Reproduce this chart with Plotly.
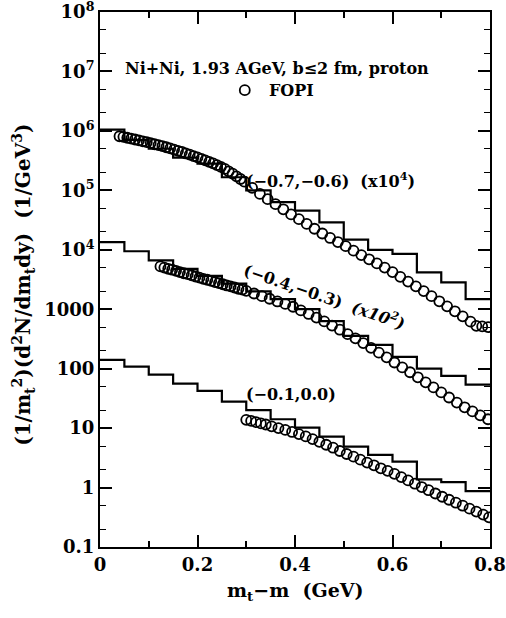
import plotly.graph_objects as go

# ---------------- data (plotted values, already scaled) ----------------
bin_edges = [0.00, 0.05, 0.10, 0.15, 0.20, 0.25, 0.30, 0.35, 0.40,
             0.45, 0.50, 0.55, 0.60, 0.65, 0.70, 0.75, 0.80]

# model histograms, rapidity bins
hist_top = [1.05e6, 7.08e5, 5.01e5, 3.55e5, 2.82e5, 1.66e5, 1.0e5, 6.31e4,
            4.57e4, 2.88e4, 1.48e4, 1.0e4, 8510, 4170, 2820, 1480]          # (-0.7,-0.6) x1e4
hist_mid = [13500, 9440, 6610, 4790, 3630, 2690, 2000, 1480,
            1000, 631, 355, 251, 158, 100, 75.9, 53.7]                      # (-0.4,-0.3) x1e2
hist_low = [141, 108, 79.4, 56.2, 42.2, 27.9, 20.0, 14.1,
            10.2, 7.19, 4.90, 3.55, 2.72, 1.37, 1.23, 0.87]                 # (-0.1,0.0)

# FOPI data points
fopi_top_x = [0.040, 0.048, 0.056, 0.064, 0.072, 0.080, 0.088, 0.096, 0.104, 0.112,
              0.120, 0.128, 0.136, 0.144, 0.152, 0.160, 0.168, 0.176, 0.184, 0.192,
              0.200, 0.208, 0.216, 0.224, 0.232, 0.240, 0.248, 0.256, 0.264, 0.272,
              0.280, 0.288, 0.296, 0.312, 0.328, 0.344, 0.360, 0.376, 0.392, 0.408,
              0.424, 0.440, 0.456, 0.472, 0.488, 0.504, 0.520, 0.536, 0.552, 0.568,
              0.584, 0.600, 0.616, 0.632, 0.648, 0.664, 0.680, 0.696, 0.712, 0.728,
              0.744, 0.760, 0.772, 0.784, 0.796]
fopi_top_y = [8.13e5, 7.94e5, 7.67e5, 7.41e5, 7.16e5, 6.92e5, 6.68e5, 6.46e5, 6.24e5, 5.96e5,
              5.75e5, 5.56e5, 5.31e5, 5.07e5, 4.84e5, 4.62e5, 4.42e5, 4.17e5, 3.98e5, 3.76e5,
              3.59e5, 3.39e5, 3.20e5, 3.02e5, 2.85e5, 2.66e5, 2.48e5, 2.29e5, 2.09e5, 1.91e5,
              1.72e5, 1.55e5, 1.40e5, 1.10e5, 8.70e4, 7.10e4, 5.85e4, 4.80e4, 3.94e4, 3.27e4,
              2.72e4, 2.26e4, 1.88e4, 1.58e4, 1.35e4, 1.15e4, 9660, 8130, 6920, 5890,
              5010, 4220, 3510, 2920, 2430, 2020, 1660, 1360, 1120, 923,
              759, 617, 525, 513, 501]

fopi_mid_x = [0.124, 0.132, 0.140, 0.148, 0.156, 0.164, 0.172, 0.180, 0.188, 0.196,
              0.204, 0.212, 0.220, 0.228, 0.236, 0.244, 0.252, 0.260, 0.268, 0.276,
              0.284, 0.292, 0.300, 0.316, 0.332, 0.348, 0.364, 0.380, 0.396, 0.412,
              0.428, 0.444, 0.460, 0.476, 0.492, 0.508, 0.524, 0.540, 0.556, 0.572,
              0.588, 0.604, 0.620, 0.636, 0.652, 0.668, 0.684, 0.700, 0.716, 0.732,
              0.748, 0.764, 0.780, 0.796]
fopi_mid_y = [5250, 5010, 4790, 4620, 4420, 4220, 4030, 3890, 3720, 3550,
              3390, 3240, 3130, 2990, 2850, 2750, 2630, 2510, 2430, 2320,
              2210, 2140, 2040, 1840, 1660, 1500, 1350, 1230, 1100, 955,
              832, 724, 624, 531, 452, 380, 324, 269, 224, 186,
              155, 127, 105, 87.1, 71.6, 58.9, 48.4, 39.8, 32.7, 26.9,
              22.4, 19.1, 16.4, 14.1]

fopi_low_x = [0.300, 0.310, 0.320, 0.330, 0.340, 0.352, 0.366, 0.380, 0.394, 0.408,
              0.422, 0.436, 0.450, 0.464, 0.478, 0.492, 0.506, 0.520, 0.534, 0.548,
              0.562, 0.576, 0.590, 0.604, 0.618, 0.632, 0.646, 0.660, 0.674, 0.688,
              0.702, 0.716, 0.730, 0.744, 0.758, 0.772, 0.786, 0.798]
fopi_low_y = [13.8, 13.2, 12.6, 12.0, 11.5, 10.7, 10.0, 9.33, 8.61, 7.94,
              7.24, 6.53, 5.89, 5.25, 4.68, 4.12, 3.67, 3.31, 2.95, 2.63,
              2.37, 2.11, 1.91, 1.70, 1.50, 1.32, 1.16, 1.02, 0.902, 0.794,
              0.700, 0.624, 0.556, 0.495, 0.442, 0.394, 0.351, 0.316]

y_tick_vals = [0.1, 1, 10, 100, 1000, 1e4, 1e5, 1e6, 1e7, 1e8]
y_tick_text = ["0.1", "1", "10", "100", "1000", "10<sup>4</sup>", "10<sup>5</sup>",
               "10<sup>6</sup>", "10<sup>7</sup>", "10<sup>8</sup>"]
x_tick_vals = [0, 0.2, 0.4, 0.6, 0.8]
x_tick_text = ["0", "0.2", "0.4", "0.6", "0.8"]

# ---------------- figure ----------------
FONT = "DejaVu Serif"
fig = go.Figure()

for h in (hist_top, hist_mid, hist_low):
    fig.add_trace(go.Scatter(
        x=bin_edges, y=h + [h[-1]], mode="lines", line_shape="hv",
        line=dict(color="black", width=2.2), showlegend=False, hoverinfo="skip"))

marker_style = dict(symbol="circle-open", size=10, color="black", line=dict(width=1.8))
for xs, ys in ((fopi_top_x, fopi_top_y), (fopi_mid_x, fopi_mid_y), (fopi_low_x, fopi_low_y)):
    fig.add_trace(go.Scatter(x=xs, y=ys, mode="markers", marker=marker_style,
                             showlegend=False))

# legend symbol for FOPI
fig.add_trace(go.Scatter(x=[0.297], y=[10 ** 6.685], mode="markers",
                         marker=marker_style, showlegend=False))

anns = [
    dict(x=0.364, y=7.056, text="Ni+Ni, 1.93 AGeV, b≤2 fm, proton", xanchor="center"),
    dict(x=0.343, y=6.685, text="FOPI", xanchor="left"),
    dict(x=0.472, y=5.167, text="(−0.7,−0.6)  (x10<sup>4</sup>)", xanchor="center"),
    dict(x=0.4615, y=3.22, text="(−0.4,−0.3)  <i>(x10<sup>2</sup>)</i>", xanchor="center",
         textangle=19),
    dict(x=0.392, y=1.558, text="(−0.1,0.0)", xanchor="center"),
]
for a in anns:
    fig.add_annotation(xref="x", yref="y", showarrow=False, yanchor="middle",
                       font=dict(family=FONT, size=16, color="black", weight="bold"), **a)

fig.add_annotation(xref="paper", yref="paper", x=0.5, y=-0.084, showarrow=False,
                   text="m<sub>t</sub>−m  (GeV)", xanchor="center", yanchor="middle",
                   font=dict(family=FONT, size=19, color="black", weight="bold"))
fig.add_annotation(xref="paper", yref="paper", x=-0.195, y=0.49, showarrow=False,
                   text="(1/m<sub>t</sub><sup>2</sup>)(d<sup>2</sup>N/dm<sub>t</sub>dy)  (1/GeV<sup>3</sup>)",
                   textangle=-90, xanchor="center", yanchor="middle",
                   font=dict(family=FONT, size=20, color="black", weight="bold"))

axis_common = dict(showline=True, linecolor="black", linewidth=2, mirror="allticks",
                   ticks="inside", tickcolor="black", tickwidth=1.5,
                   showgrid=False, zeroline=False, automargin=False,
                   ticklabeloverflow="allow",
                   tickfont=dict(family=FONT, size=18, color="black", weight="bold"))

fig.update_xaxes(range=[0, 0.8], tickvals=x_tick_vals, ticktext=x_tick_text, ticklen=12,
                 minor=dict(dtick=0.1, ticks="inside", ticklen=6, tickcolor="black",
                            tickwidth=1.5, showgrid=False),
                 **axis_common)
fig.update_yaxes(type="log", range=[-1, 8], tickvals=y_tick_vals, ticktext=y_tick_text,
                 ticklen=12,
                 minor=dict(ticks="inside", ticklen=6, tickcolor="black", tickwidth=1.2,
                            showgrid=False),
                 **axis_common)

fig.update_layout(width=506, height=618, margin=dict(l=100, r=16, t=12, b=71),
                  plot_bgcolor="white", paper_bgcolor="white",
                  font=dict(family=FONT, color="black"))

fig.write_html("out.html", config={"displayModeBar": False},
               post_script="document.body.style.margin='0px';document.body.style.overflow='hidden';")
